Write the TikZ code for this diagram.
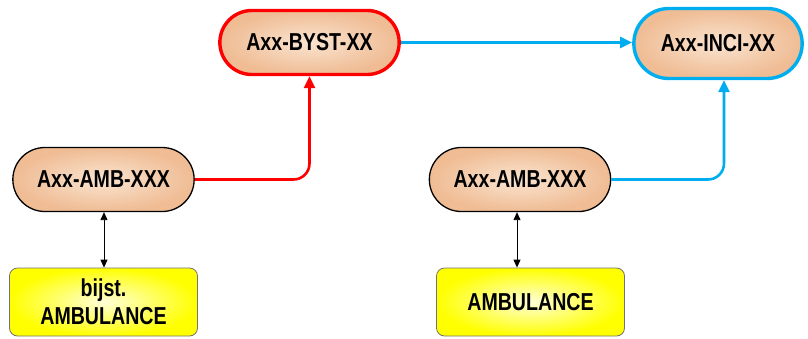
\documentclass[tikz,border=0pt]{standalone}
\usepackage{fontspec}
\setmainfont{Liberation Sans}
\newfontfamily\lblfont[FakeStretch=0.8]{Liberation Sans}
\usetikzlibrary{shapes.misc,arrows.meta}

\definecolor{pillout}{RGB}{239,188,148}
\definecolor{pillin}{RGB}{250,228,208}
\definecolor{cyanline}{RGB}{0,174,239}
\definecolor{redline}{RGB}{255,0,0}
\definecolor{ambyellow}{RGB}{255,255,0}

\tikzset{
	pill/.style={rounded rectangle, inner color=pillin, outer color=pillout,
		draw=black, line width=1.3pt, minimum height=64pt,
		font=\lblfont\bfseries\fontsize{24.5}{27}\selectfont},
	ambbox/.style={rectangle, rounded corners=8pt, inner color=ambyellow!15!white,
		outer color=ambyellow, draw=black!55, line width=0.8pt,
		minimum width=188pt, minimum height=68pt, align=center,
		font=\lblfont\bfseries\fontsize{24.5}{28}\selectfont},
	redarrow/.style={draw=redline, line width=2.6pt, rounded corners=16pt,
		-{Triangle[length=12pt,width=11pt]}},
	cyanarrow/.style={draw=cyanline, line width=2.6pt, rounded corners=16pt,
		-{Triangle[length=12pt,width=11pt]}},
	linkarrow/.style={draw=black, line width=0.9pt,
		{Triangle[length=8pt,width=7pt]}-{Triangle[length=8pt,width=7pt]}}
}

\begin{document}
\begin{tikzpicture}[x=1pt,y=-1pt]

	% canvas
	\useasboundingbox (0,0) rectangle (808,338);

	% top row
	\node[pill, draw=redline, line width=3.4pt, minimum width=186pt, minimum height=64pt]
		(byst) at (309.5,42.5) {Axx-BYST-XX};
	\node[pill, draw=cyanline, line width=3.4pt, minimum width=175pt, minimum height=70pt]
		(inci) at (718,43.5) {Axx-INCI-XX};

	% ambulance units
	\node[pill, minimum width=188pt] (ambL) at (103.5,179.5) {Axx-AMB-XXX};
	\node[pill, minimum width=188pt] (ambR) at (520,179.5) {Axx-AMB-XXX};

	\node[ambbox] (vehL) at (103.5,302) {bijst.\\AMBULANCE};
	\node[ambbox] (vehR) at (530.5,302) {AMBULANCE};

	% connectors
	\draw[redarrow] (ambL.east) -| (byst.south);
	\draw[cyanarrow] (ambR.east) -| ([xshift=6pt]inci.south);
	\draw[cyanarrow] (byst.east) -- (byst.east -| inci.west);

	\draw[linkarrow] (ambL.south -| 104,0) -- (vehL.north -| 104,0);
	\draw[linkarrow] (ambR.south -| 517,0) -- (vehR.north -| 517,0);

\end{tikzpicture}
\end{document}
